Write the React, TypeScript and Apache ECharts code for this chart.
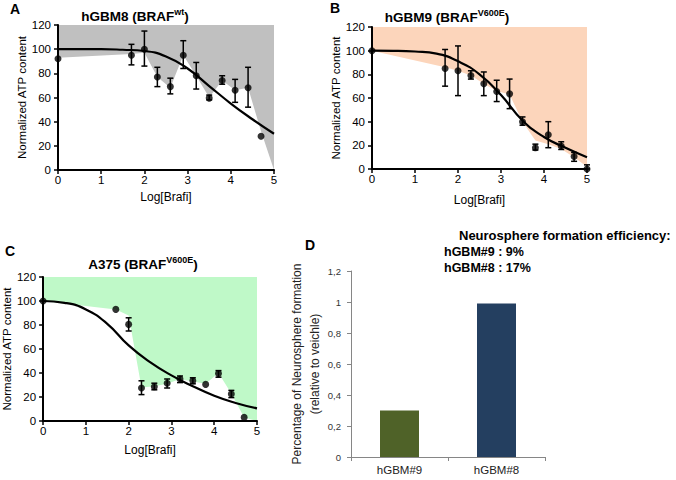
import React, { useEffect, useRef } from 'react';
import * as echarts from 'echarts';

const FONT = "'Liberation Sans', Arial, sans-serif";

// ---- Panel A: hGBM8 (BRAF wt) ----
const aDose = [0, 1.7, 2.0, 2.3, 2.6, 2.9, 3.2, 3.5, 3.8, 4.1, 4.4, 4.7];
const aMean = [92, 95, 100, 77, 69, 95, 78, 59.5, 74, 66, 68, 28];
const aLow = [null, 87, 86, 69, 63, 84, 67, 58, 71, 56, 52, null];
const aHigh = [null, 104, 115, 85, 76, 107, 89, 62, 78, 75, 85, null];
const aShadeX = [0, 1.7, 2.0, 2.3, 2.6, 2.9, 3.2, 3.5, 3.8, 4.1, 4.4, 4.7, 5];
const aShadeY = [93, 96, 97, 77, 68, 95, 78, 60, 74, 66, 68, 32, 0];

// ---- Panel B: hGBM9 (BRAF V600E) ----
const bDose = [0, 1.7, 2.0, 2.3, 2.6, 2.9, 3.2, 3.5, 3.8, 4.1, 4.4, 4.7, 5.0];
const bMean = [100, 85, 83, 79, 72, 65.5, 63.5, 40, 18, 29, 19.5, 10.5, 0];
const bLow = [null, 70, 62, 76, 62, 57, 51, 37, 16, 18, 16.5, 6.5, 0];
const bHigh = [null, 101, 104, 83, 82, 75, 76, 44, 21, 40, 23, 14, 3.5];
const bShadeX = [0, 1.7, 2.0, 2.3, 2.6, 2.9, 3.2, 3.5, 3.8, 4.1, 4.4, 4.7, 5];
const bShadeY = [100, 86, 83, 79, 72, 66, 63, 40, 24, 21, 17, 10, 2];

// ---- Panel C: A375 (BRAF V600E) ----
const cDose = [0, 1.7, 2.0, 2.3, 2.6, 2.9, 3.2, 3.5, 3.8, 4.1, 4.4, 4.7];
const cMean = [100, 93, 80.5, 27.5, 28.5, 31.5, 35, 33.5, 30.5, 39.5, 22.5, 3];
const cLow = [null, null, 75, 22, 26, 27.5, 32, 31, null, 36.5, 19.5, null];
const cHigh = [null, null, 86, 33.5, 31.5, 35, 37.5, 36, null, 42, 25.5, null];
const cShadeX = [0, 1.7, 2.0, 2.3, 2.6, 2.9, 3.2, 3.5, 3.8, 4.1, 4.4, 4.7, 5];
const cShadeY = [100, 93, 88, 28, 29, 31, 35, 33, 31, 40, 23, 3, 0];

// ---- Fitted curves ----
const fitX = [0, 0.5, 1, 1.5, 2, 2.5, 3, 3.5, 4, 4.5, 5];
const aFit = [100, 100, 100, 99.5, 98.5, 94, 84, 69.5, 55, 42, 30];
const bFit = [100, 99.9, 99.3, 97.5, 91, 80, 62.5, 41, 27, 18, 10];
const cFit = [100, 98.5, 93, 81, 63, 49, 38, 29, 21, 15, 10.5];

// ---- Panel D ----
const dCategories = ['hGBM#9', 'hGBM#8'];
const dValues = [0.3, 0.99];
const dColors = ['#4F6228', '#243F60'];

const xTicks = { min: 0, max: 5, interval: 1 };
const yTicks = { min: 0, max: 120, interval: 20 };
const dTicks = { min: 0, max: 1.2, interval: 0.2 };

const pairs = (xs: number[], ys: (number | null)[]) =>
  xs.map((x, i) => [x, ys[i]]).filter((p) => p[1] !== null);

const errData = (xs: number[], lo: (number | null)[], hi: (number | null)[]) =>
  xs.map((x, i) => [x, lo[i], hi[i]]).filter((p) => p[1] !== null && p[2] !== null);

const errorRender = (_params: any, api: any) => {
  const x = api.value(0);
  const top = api.coord([x, api.value(2)]);
  const bot = api.coord([x, api.value(1)]);
  const w = 3;
  const st = { stroke: '#000', lineWidth: 1.5 };
  return {
    type: 'group',
    children: [
      { type: 'line', shape: { x1: top[0], y1: top[1], x2: bot[0], y2: bot[1] }, style: st },
      { type: 'line', shape: { x1: top[0] - w, y1: top[1], x2: top[0] + w, y2: top[1] }, style: st },
      { type: 'line', shape: { x1: bot[0] - w, y1: bot[1], x2: bot[0] + w, y2: bot[1] }, style: st },
    ],
  };
};

const doseX = (gi: number, nameGap: number) => ({
  type: 'value',
  gridIndex: gi,
  ...xTicks,
  z: 3,
  axisLine: { onZero: false, lineStyle: { color: '#000', width: 2 } },
  axisTick: { length: 4, lineStyle: { color: '#000', width: 1.5 } },
  axisLabel: { fontSize: 11.5, color: '#000', margin: 4, fontFamily: FONT },
  splitLine: { show: false },
  name: 'Log[Brafi]',
  nameLocation: 'middle',
  nameGap,
  nameTextStyle: { fontSize: 12, color: '#000', fontFamily: FONT },
});

const atpY = (gi: number, nameGap: number) => ({
  type: 'value',
  gridIndex: gi,
  ...yTicks,
  z: 3,
  axisLine: { onZero: false, lineStyle: { color: '#000', width: 2 } },
  axisTick: { length: 4, lineStyle: { color: '#000', width: 1.5 } },
  axisLabel: { fontSize: 11.5, color: '#000', margin: 7, fontFamily: FONT },
  splitLine: { show: false },
  name: 'Normalized ATP content',
  nameLocation: 'middle',
  nameGap,
  nameTextStyle: { fontSize: 11.5, color: '#000', fontFamily: FONT },
});

const panelSeries = (
  gi: number,
  shadeColor: string,
  shadeX: number[],
  shadeY: number[],
  fit: number[],
  dose: number[],
  mean: number[],
  lo: (number | null)[],
  hi: (number | null)[]
) => [
  {
    type: 'line',
    xAxisIndex: gi,
    yAxisIndex: gi,
    data: pairs(shadeX, shadeY),
    symbol: 'none',
    lineStyle: { width: 0, opacity: 0 },
    areaStyle: { color: shadeColor, opacity: 1, origin: 'end' },
    z: 1,
    silent: true,
  },
  {
    type: 'line',
    xAxisIndex: gi,
    yAxisIndex: gi,
    data: pairs(fitX, fit),
    symbol: 'none',
    smooth: 0.5,
    lineStyle: { color: '#000', width: 2.2 },
    z: 4,
  },
  {
    type: 'custom',
    xAxisIndex: gi,
    yAxisIndex: gi,
    data: errData(dose, lo, hi),
    renderItem: errorRender,
    encode: { x: 0, y: [1, 2] },
    clip: false,
    z: 5,
  },
  {
    type: 'scatter',
    xAxisIndex: gi,
    yAxisIndex: gi,
    data: pairs(dose, mean),
    symbol: 'circle',
    symbolSize: 7,
    itemStyle: { color: '#000' },
    clip: false,
    z: 6,
  },
];

const txt = (x: number, y: number, text: string, font: string, align = 'left', rich?: any) => ({
  type: 'text',
  x,
  y,
  z: 10,
  style: {
    text,
    font,
    fill: '#000',
    align,
    verticalAlign: 'middle',
    textAlign: align,
    textVerticalAlign: 'middle',
    rich,
  },
});

const supRich = {
  s: { fontSize: 9, fontWeight: 'bold', fontFamily: FONT, verticalAlign: 'top', lineHeight: 11 },
  m: { fontSize: 13.5, fontWeight: 'bold', fontFamily: FONT, lineHeight: 17 },
};

export default function App() {
  const ref = useRef<HTMLDivElement>(null);
  useEffect(() => {
    if (!ref.current) return;
    const chart = echarts.init(ref.current, undefined, { renderer: 'svg' });
    const option: any = {
      animation: false,
      backgroundColor: '#fff',
      grid: [
        { left: 58, top: 25, width: 216, height: 145 },
        { left: 372, top: 27, width: 215, height: 142 },
        { left: 42, top: 277, width: 215, height: 144 },
        { left: 351, top: 271, width: 194, height: 186 },
      ],
      xAxis: [
        doseX(0, 21),
        doseX(1, 25),
        doseX(2, 23),
        {
          type: 'category',
          gridIndex: 3,
          data: dCategories,
          axisLine: { lineStyle: { color: '#868686', width: 1 } },
          axisTick: { show: true, length: 4, alignWithLabel: false, lineStyle: { color: '#868686' } },
          axisLabel: { fontSize: 11.5, color: '#222', margin: 7, fontFamily: FONT },
        },
      ],
      yAxis: [
        atpY(0, 29),
        atpY(1, 25),
        atpY(2, 26),
        {
          type: 'value',
          gridIndex: 3,
          ...dTicks,
          axisLine: { show: true, lineStyle: { color: '#868686', width: 1 } },
          axisTick: { show: true, length: 4, lineStyle: { color: '#868686' } },
          axisLabel: {
            fontSize: 9.5,
            color: '#333',
            margin: 10,
            fontFamily: FONT,
            formatter: (v: number) => String(+v.toFixed(1)).replace('.', ','),
          },
          splitLine: { show: false },
          name: 'Percentage of Neurosphere formation\n(relative to veichle)',
          nameLocation: 'middle',
          nameGap: 14,
          nameTextStyle: { fontSize: 12, color: '#222', fontFamily: FONT, lineHeight: 18 },
        },
      ],
      series: [
        ...panelSeries(0, '#c0c0c0', aShadeX, aShadeY, aFit, aDose, aMean, aLow, aHigh),
        ...panelSeries(1, '#fcd5bb', bShadeX, bShadeY, bFit, bDose, bMean, bLow, bHigh),
        ...panelSeries(2, '#bff9c8', cShadeX, cShadeY, cFit, cDose, cMean, cLow, cHigh),
        {
          type: 'bar',
          xAxisIndex: 3,
          yAxisIndex: 3,
          barWidth: 39,
          data: dValues.map((v, i) => ({ value: v, itemStyle: { color: dColors[i] } })),
        },
      ],
      graphic: [
        txt(10, 9, 'A', `bold 14px ${FONT}`),
        txt(330, 8, 'B', `bold 14px ${FONT}`),
        txt(5, 251, 'C', `bold 14px ${FONT}`),
        txt(305, 245, 'D', `bold 14px ${FONT}`),
        txt(135, 16, '{m|hGBM8 (BRAF}{s|wt}{m|)}', `bold 13.5px ${FONT}`, 'center', supRich),
        txt(447, 17, '{m|hGBM9 (BRAF}{s|V600E}{m|)}', `bold 13.5px ${FONT}`, 'center', supRich),
        txt(143, 264, '{m|A375 (BRAF}{s|V600E}{m|)}', `bold 13.5px ${FONT}`, 'center', supRich),
        txt(459, 235, 'Neurosphere formation efficiency:', `bold 13px ${FONT}`),
        txt(444, 252, 'hGBM#9 : 9%', `bold 12.5px ${FONT}`),
        txt(444, 268, 'hGBM#8 : 17%', `bold 12.5px ${FONT}`),
      ],
    };
    chart.setOption(option);
    return () => chart.dispose();
  }, []);
  return (
    <div
      ref={ref}
      style={{ position: 'fixed', left: 0, top: 0, width: 676, height: 480, background: '#fff' }}
    />
  );
}
